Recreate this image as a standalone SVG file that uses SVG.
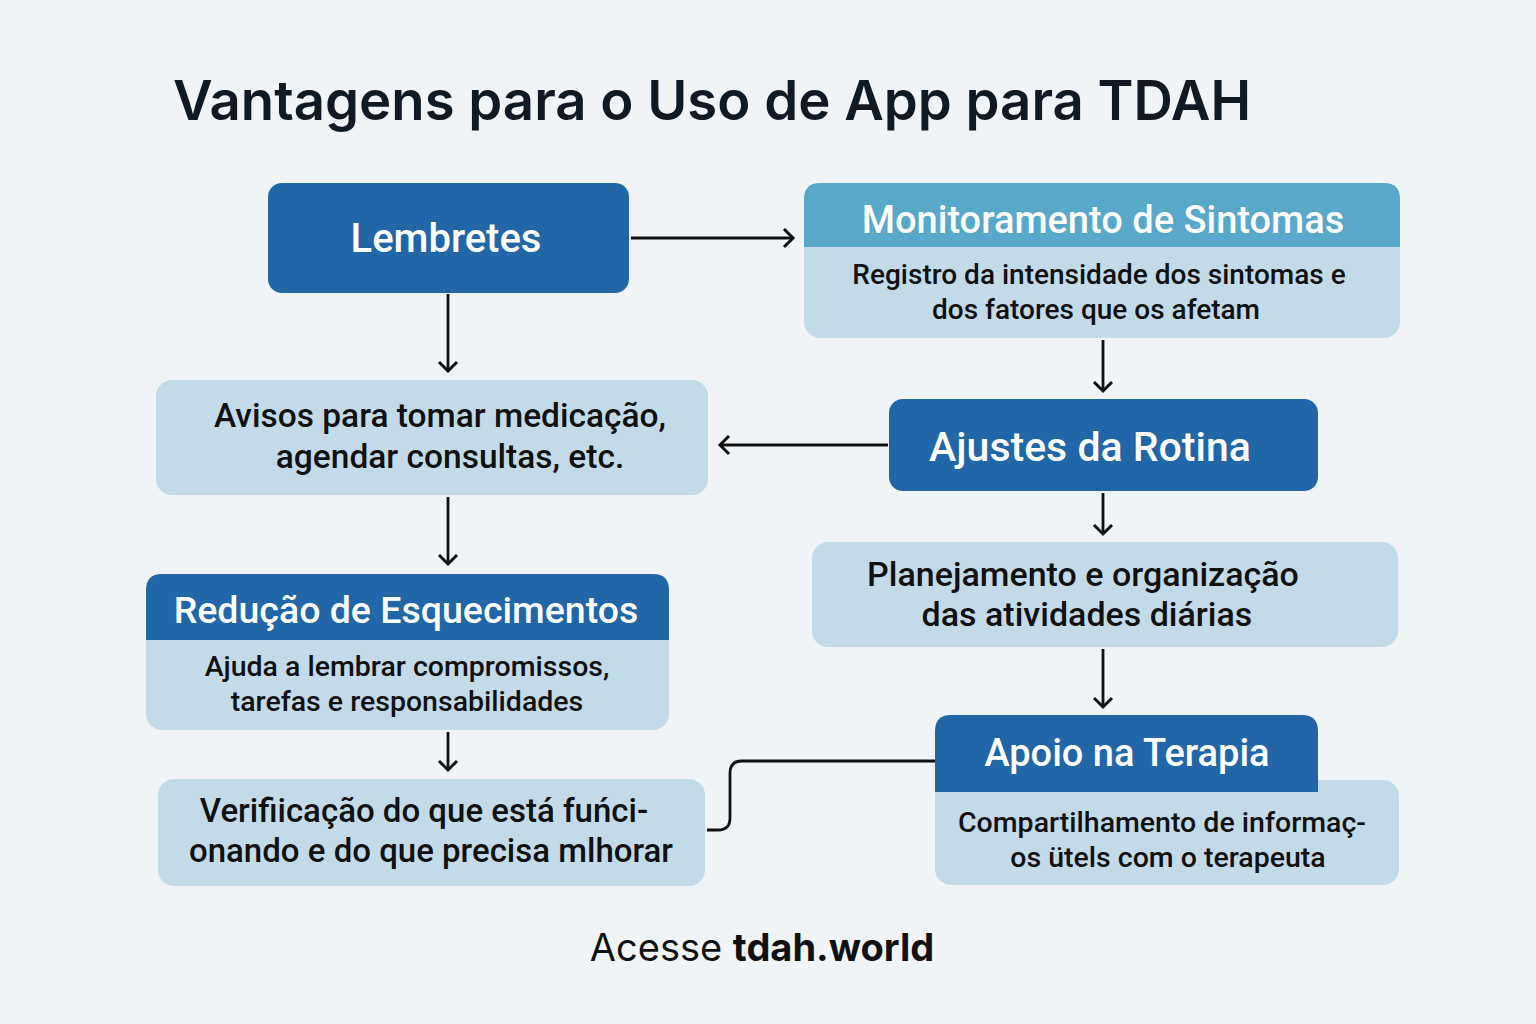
<svg xmlns="http://www.w3.org/2000/svg" width="1536" height="1024" viewBox="0 0 1536 1024">
<style>
.dark{fill:#2166a7}
.teal{fill:#58a8ca}
.light{fill:#c3dbe9}
.ht{font-family:Roboto,"Liberation Sans",sans-serif;fill:#fff;text-anchor:middle;font-weight:500}
.bt{font-family:Roboto,"Liberation Sans",sans-serif;fill:#111;text-anchor:middle;font-weight:500}
.conn{fill:none;stroke:#111;stroke-width:2.8}
</style>
<defs>
<marker id="arr" markerWidth="24" markerHeight="24" refX="12" refY="12" orient="auto" markerUnits="userSpaceOnUse">
<path d="M3,3 L12,12 L3,21" fill="none" stroke="#111" stroke-width="3"/>
</marker>
</defs>
<rect width="1536" height="1024" fill="#f0f4f7"/>
<text x="173" y="120" font-family="Inter,'Open Sans',sans-serif" font-weight="600" font-size="54.5" fill="#0f1a24">Vantagens para o Uso de App para TDAH</text>

<g id="connectors">
<line class="conn" x1="631" y1="238" x2="793" y2="238" marker-end="url(#arr)"/>
<line class="conn" x1="448" y1="294" x2="448" y2="371" marker-end="url(#arr)"/>
<line class="conn" x1="888" y1="445" x2="720" y2="445" marker-end="url(#arr)"/>
<line class="conn" x1="1103" y1="340" x2="1103" y2="391" marker-end="url(#arr)"/>
<line class="conn" x1="1103" y1="493" x2="1103" y2="534" marker-end="url(#arr)"/>
<line class="conn" x1="1103" y1="649" x2="1103" y2="707" marker-end="url(#arr)"/>
<line class="conn" x1="448" y1="497" x2="448" y2="564" marker-end="url(#arr)"/>
<line class="conn" x1="448" y1="732" x2="448" y2="770" marker-end="url(#arr)"/>
<path class="conn" d="M935,761 H742 Q730,761 730,773 V818 Q730,830 718,830 H707"/>
</g>

<g id="lembretes">
<rect class="dark" x="268" y="183" width="361" height="110" rx="14"/>
<text class="ht" x="446" y="252" font-size="40">Lembretes</text>
</g>

<g id="monitoramento">
<rect class="light" x="804" y="183" width="596" height="155" rx="16"/>
<path class="teal" d="M804,247 V199 Q804,183 820,183 H1384 Q1400,183 1400,199 V247 Z"/>
<text class="ht" x="1103" y="233" font-size="38">Monitoramento de Sintomas</text>
<text class="bt" x="1099" y="284" font-size="28">Registro da intensidade dos sintomas e</text>
<text class="bt" x="1096" y="319" font-size="28">dos fatores que os afetam</text>
</g>

<g id="avisos">
<rect class="light" x="156" y="380" width="552" height="115" rx="16"/>
<text class="bt" x="440" y="427" font-size="33.5">Avisos para tomar medicação,</text>
<text class="bt" x="450" y="468" font-size="33.5">agendar consultas, etc.</text>
</g>

<g id="ajustes">
<rect class="dark" x="889" y="399" width="429" height="92" rx="14"/>
<text class="ht" x="1090" y="461" font-size="41">Ajustes da Rotina</text>
</g>

<g id="planejamento">
<rect class="light" x="812" y="542" width="586" height="105" rx="16"/>
<text class="bt" x="1083" y="586" font-size="34">Planejamento e organização</text>
<text class="bt" x="1087" y="626" font-size="34">das atividades diárias</text>
</g>

<g id="apoio">
<rect class="light" x="935" y="780" width="464" height="105" rx="16"/>
<path class="dark" d="M935,792 V731 Q935,715 951,715 H1302 Q1318,715 1318,731 V792 Z"/>
<text class="ht" x="1127" y="766" font-size="38">Apoio na Terapia</text>
<text class="bt" x="1162" y="832" font-size="28.5">Compartilhamento de informaç-</text>
<text class="bt" x="1168" y="867" font-size="28.5">os ütels com o terapeuta</text>
</g>

<g id="reducao">
<rect class="light" x="146" y="574" width="523" height="156" rx="16"/>
<path class="dark" d="M146,640 V590 Q146,574 162,574 H653 Q669,574 669,590 V640 Z"/>
<text class="ht" x="406" y="623" font-size="37.5">Redução de Esquecimentos</text>
<text class="bt" x="407" y="676" font-size="28.5">Ajuda a lembrar compromissos,</text>
<text class="bt" x="407" y="711" font-size="28.5">tarefas e responsabilidades</text>
</g>

<g id="verificacao">
<rect class="light" x="158" y="779" width="547" height="107" rx="16"/>
<text class="bt" x="424" y="822" font-size="33">Verifiicação do que está fuńci-</text>
<text class="bt" x="431" y="862" font-size="33">onando e do que precisa mlhorar</text>
</g>

<text x="762" y="961" text-anchor="middle" font-family="Inter,'Open Sans',sans-serif" font-size="38" fill="#111">Acesse <tspan font-weight="700">tdah.world</tspan></text>
</svg>
